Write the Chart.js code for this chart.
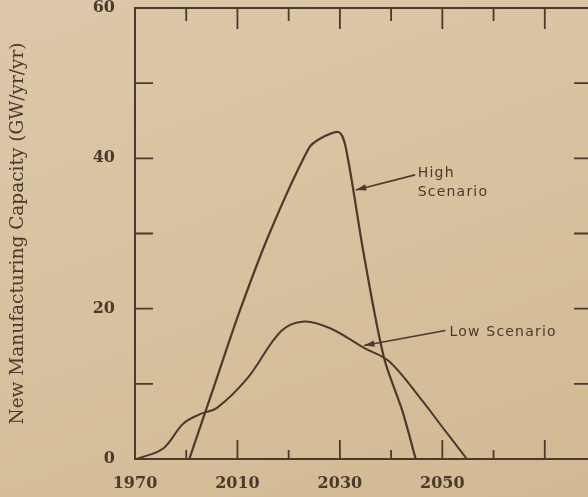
<!DOCTYPE html>
<html>
<head>
<meta charset="utf-8">
<script src="https://cdn.jsdelivr.net/npm/chart.js@4.4.1/dist/chart.umd.min.js"></script>
<style>
    html, body {
        margin: 0;
        padding: 0;
        overflow: hidden;
        background: linear-gradient(160deg, #dcc8a9 0%, #d7c09d 55%, #d2b993 100%);
    }
    #wrap { width: 604px; height: 497px; }
</style>
</head>
<body>
<div id="wrap"><canvas id="capacityChart" width="604" height="497"></canvas></div>
<script>
// values (year, GW/yr/yr)
const highYears = [2000.6, 2005.5, 2010.4, 2016.3, 2023.9, 2026.1, 2029.7, 2031.1, 2034.7, 2038.6, 2042.2, 2044.8];
const highValues = [0, 9.8, 19.6, 30.1, 41.3, 42.6, 43.5, 41.6, 27.1, 13.5, 6.4, 0];

const lowYears = [1990.3, 1995.5, 1999.4, 2002.8, 2006.0, 2012.0, 2018.5, 2023.0, 2028.1, 2034.7, 2039.6, 2045.8, 2050.5, 2054.8];
const lowValues = [0, 1.4, 4.7, 6.0, 6.8, 10.8, 17.0, 18.3, 17.4, 14.8, 13.0, 8.0, 3.8, 0];

// the original axis is broken after its first tick: the origin is printed as 1970
const xTickValues = [1990, 2010, 2030, 2050];
const xTickText = ['1970', '2010', '2030', '2050'];
const yTickValues = [0, 20, 40, 60];

const INK = '#4a3a2e';

function toPoints(xs, ys) {
    return xs.map((x, i) => ({ x: x, y: ys[i] }));
}

// frame + inward tick marks like the printed figure
const frameTicks = {
    id: 'frameTicks',
    afterDraw(chart) {
        const { ctx, chartArea: a, scales: { x, y } } = chart;
        ctx.save();
        ctx.strokeStyle = INK;
        ctx.lineWidth = 2;
        ctx.strokeRect(a.left, a.top, a.right - a.left, a.bottom - a.top);
        ctx.lineWidth = 1.8;
        for (let v = 2000; v <= 2070; v += 10) {
            const px = x.getPixelForValue(v);
            const len = (v - 2010) % 20 === 0 ? 19 : 9;
            ctx.beginPath();
            ctx.moveTo(px, a.bottom);
            ctx.lineTo(px, a.bottom - len);
            ctx.moveTo(px, a.top);
            ctx.lineTo(px, a.top + (len === 19 ? 21 : 13));
            ctx.stroke();
        }
        for (let v = 10; v <= 50; v += 10) {
            const py = y.getPixelForValue(v);
            ctx.beginPath();
            ctx.moveTo(a.left, py);
            ctx.lineTo(a.left + 18, py);
            ctx.moveTo(a.right, py);
            ctx.lineTo(a.right - 22, py);
            ctx.stroke();
        }
        ctx.restore();
    }
};

// hand-lettered labels with arrows pointing at each curve
const notes = [
    { lines: ['High', 'Scenario'], at: [2045.2, 38.0], from: [2044.7, 37.8], to: [2033.1, 35.8] },
    { lines: ['Low Scenario'], at: [2051.4, 16.9], from: [2050.6, 17.1], to: [2034.7, 15.1] }
];

const arrowNotes = {
    id: 'arrowNotes',
    afterDraw(chart) {
        const { ctx, scales: { x, y } } = chart;
        ctx.save();
        ctx.strokeStyle = INK;
        ctx.fillStyle = INK;
        ctx.lineWidth = 1.6;
        ctx.font = '14px "DejaVu Sans"';
        ctx.letterSpacing = '1.2px';
        ctx.textBaseline = 'middle';
        notes.forEach(n => {
            const fx = x.getPixelForValue(n.from[0]), fy = y.getPixelForValue(n.from[1]);
            const tx = x.getPixelForValue(n.to[0]), ty = y.getPixelForValue(n.to[1]);
            ctx.beginPath();
            ctx.moveTo(fx, fy);
            ctx.lineTo(tx, ty);
            ctx.stroke();
            const ang = Math.atan2(ty - fy, tx - fx);
            ctx.beginPath();
            ctx.moveTo(tx, ty);
            ctx.lineTo(tx - 11 * Math.cos(ang - 0.3), ty - 11 * Math.sin(ang - 0.3));
            ctx.lineTo(tx - 11 * Math.cos(ang + 0.3), ty - 11 * Math.sin(ang + 0.3));
            ctx.closePath();
            ctx.fill();
            const lx = x.getPixelForValue(n.at[0]), ly = y.getPixelForValue(n.at[1]);
            n.lines.forEach((t, i) => ctx.fillText(t, lx, ly + i * 19));
        });
        ctx.restore();
    }
};

function noEdgePadding(s) {
    s.paddingTop = 0;
    s.paddingBottom = 0;
    s.paddingLeft = 0;
    s.paddingRight = 0;
}

const ctx = document.getElementById('capacityChart').getContext('2d');
new Chart(ctx, {
    type: 'line',
    data: {
        datasets: [{
            label: 'High Scenario',
            data: toPoints(highYears, highValues),
            borderColor: INK,
            borderWidth: 2.2,
            pointRadius: 0,
            tension: 0.3
        }, {
            label: 'Low Scenario',
            data: toPoints(lowYears, lowValues),
            borderColor: INK,
            borderWidth: 2,
            pointRadius: 0,
            tension: 0.35
        }]
    },
    options: {
        responsive: false,
        animation: false,
        layout: { padding: { top: 8, right: 8, bottom: 0, left: 0 } },
        plugins: {
            legend: { display: false },
            tooltip: { enabled: false }
        },
        scales: {
            x: {
                type: 'linear',
                min: 1990,
                max: 2080,
                grid: { display: false, drawTicks: false },
                border: { display: false },
                afterFit: s => { s.height = 38; noEdgePadding(s); },
                afterBuildTicks: s => { s.ticks = xTickValues.map(v => ({ value: v })); },
                ticks: {
                    autoSkip: false,
                    maxRotation: 0,
                    padding: 15,
                    color: INK,
                    font: { family: '"DejaVu Serif"', size: 16, weight: 'bold' },
                    callback: v => xTickText[xTickValues.indexOf(v)]
                }
            },
            y: {
                min: 0,
                max: 60,
                grid: { display: false, drawTicks: false },
                border: { display: false },
                afterFit: s => { s.width = 135; noEdgePadding(s); },
                afterBuildTicks: s => { s.ticks = yTickValues.map(v => ({ value: v })); },
                ticks: {
                    padding: 20,
                    color: INK,
                    font: { family: '"DejaVu Serif"', size: 16, weight: 'bold' }
                },
                title: {
                    display: true,
                    text: 'New Manufacturing Capacity (GW/yr/yr)',
                    color: INK,
                    padding: { top: 7 },
                    font: { family: '"DejaVu Serif"', size: 18.5 }
                }
            }
        }
    },
    plugins: [frameTicks, arrowNotes]
});
</script>
</body>
</html>
